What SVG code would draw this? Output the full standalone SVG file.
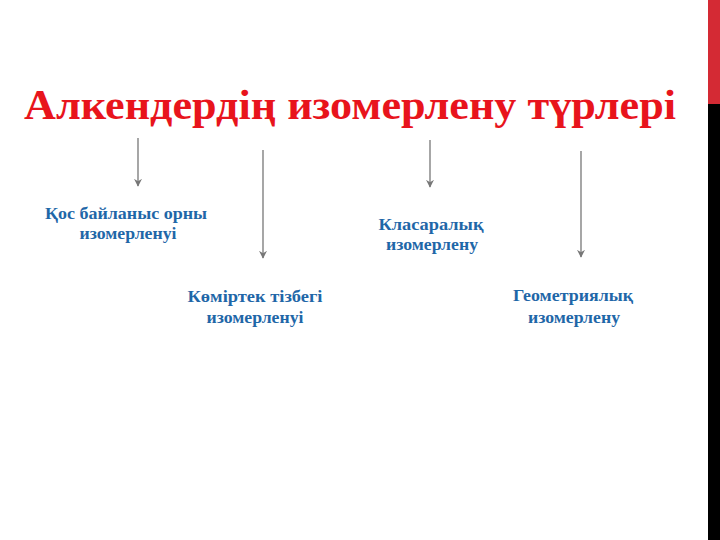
<svg xmlns="http://www.w3.org/2000/svg" width="720" height="540" viewBox="0 0 720 540">
<defs>
<marker id="ah" viewBox="0 0 10 10" refX="9" refY="5" markerWidth="8" markerHeight="8" orient="auto" markerUnits="userSpaceOnUse">
<path d="M0,0 L10,5 L0,10 L3,5 Z" fill="#777"/>
</marker>
<style>
.t{font-family:"Liberation Serif","Times New Roman",serif;font-weight:bold;}
.title{font-size:43px;fill:#e8141c;}
.lbl{font-size:17px;fill:#1f67a8;text-anchor:middle;}
.c{stroke:#777;stroke-width:1.3;fill:none;marker-end:url(#ah);}
</style>
</defs>
<rect width="720" height="540" fill="#fff"/>
<rect x="708" y="0" width="12" height="104" fill="#d42a34"/>
<rect x="708" y="104" width="12" height="436" fill="#000"/>
<text class="t title" x="24" y="119" textLength="652" lengthAdjust="spacingAndGlyphs">Алкендердің изомерлену түрлері</text>
<g id="connectors">
<line class="c" x1="138" y1="138" x2="138" y2="186"/>
<line class="c" x1="263" y1="150" x2="263" y2="258"/>
<line class="c" x1="430" y1="140" x2="430" y2="187"/>
<line class="c" x1="581" y1="151" x2="581" y2="257"/>
</g>
<g id="n1"><text class="t lbl" x="126" y="219" textLength="162" lengthAdjust="spacingAndGlyphs">Қос байланыс орны</text><text class="t lbl" x="128" y="239" textLength="97" lengthAdjust="spacingAndGlyphs">изомерленуі</text></g>
<g id="n2"><text class="t lbl" x="255" y="302" textLength="135" lengthAdjust="spacingAndGlyphs">Көміртек тізбегі</text><text class="t lbl" x="255" y="323" textLength="97" lengthAdjust="spacingAndGlyphs">изомерленуі</text></g>
<g id="n3"><text class="t lbl" x="431" y="230" textLength="105" lengthAdjust="spacingAndGlyphs">Класаралық</text><text class="t lbl" x="432" y="250" textLength="92" lengthAdjust="spacingAndGlyphs">изомерлену</text></g>
<g id="n4"><text class="t lbl" x="573" y="301" textLength="120" lengthAdjust="spacingAndGlyphs">Геометриялық</text><text class="t lbl" x="574" y="323" textLength="92" lengthAdjust="spacingAndGlyphs">изомерлену</text></g>
</svg>
